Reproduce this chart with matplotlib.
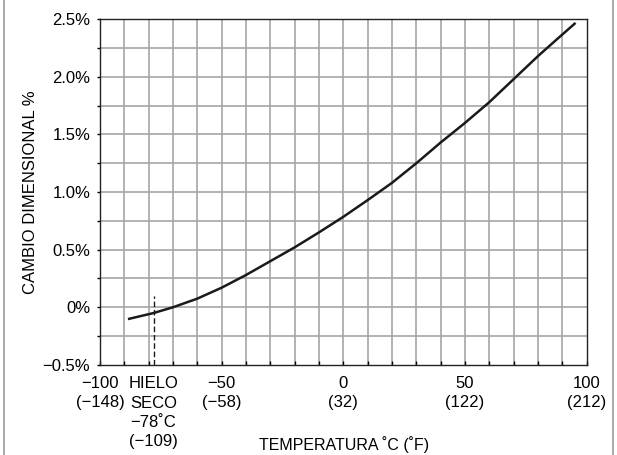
import matplotlib
matplotlib.use("Agg")
import matplotlib.pyplot as plt
from matplotlib.lines import Line2D

plt.rcParams['font.family'] = ['Liberation Sans', 'DejaVu Sans']

# curve
temp_c = [-88, -78, -70, -60, -50, -40, -30, -20, -10, 0, 10, 20, 30, 40, 50, 60, 70, 80, 88, 95]
change_pct = [-0.10, -0.05, 0.0, 0.075, 0.17, 0.28, 0.40, 0.52, 0.65, 0.785, 0.93, 1.08,
              1.25, 1.43, 1.60, 1.78, 1.98, 2.18, 2.33, 2.46]

x_ticks = [-100, -50, 0, 50, 100]
x_labels = ["\u2212100\n(\u2212148)", "\u221250\n(\u221258)", "0\n(32)", "50\n(122)", "100\n(212)"]
dry_ice = -78
dry_ice_label = "HIELO\nSECO\n\u221278\u02daC\n(\u2212109)"
y_ticks = [-0.5, 0, 0.5, 1.0, 1.5, 2.0, 2.5]
y_labels = ["\u22120.5%", "0%", "0.5%", "1.0%", "1.5%", "2.0%", "2.5%"]

fig = plt.figure(figsize=(6.17, 4.55), dpi=100)
ax = fig.add_axes([0.162, 0.198, 0.789, 0.760])

ax.set_xlim(-100, 100)
ax.set_ylim(-0.5, 2.5)

# grid every 10 deg and every 0.25 %
for gx in range(-90, 100, 10):
    ax.axvline(gx, color='#a6a6a6', lw=1.2, zorder=1)
for i in range(1, 12):
    ax.axhline(-0.5 + 0.25 * i, color='#a6a6a6', lw=1.2, zorder=1)

ax.plot(temp_c, change_pct, color='#1a1a1a', lw=1.8, zorder=3, solid_joinstyle='round')
ax.plot([dry_ice, dry_ice], [-0.5, 0.1], color='#1a1a1a', lw=1.0, ls=(0, (4, 2)), zorder=3)

fs = 12
ax.set_xticks(x_ticks, labels=x_labels)
ax.set_xticks(list(range(-90, 100, 10)), minor=True)
ax.tick_params(axis='x', which='both', direction='in', length=3, width=1, pad=8, labelsize=fs)
for lab in ax.get_xticklabels():
    lab.set_linespacing(1.35)
ax.text(dry_ice, -0.6, dry_ice_label, ha='center', va='top', fontsize=fs,
        linespacing=1.35, transform=ax.transData, clip_on=False)

ax.set_yticks(y_ticks, labels=y_labels)
ax.set_yticks([-0.25, 0.25, 0.75, 1.25, 1.75, 2.25], minor=True)
ax.tick_params(axis='y', which='both', direction='out', length=2.5, width=1, pad=4.5, labelsize=fs)

for s in ax.spines.values():
    s.set_color('#222222')
    s.set_linewidth(1.0)

fig.text(0.049, 0.578, "CAMBIO DIMENSIONAL %", rotation=90, ha='center', va='center', fontsize=fs)
fig.text(0.557, 0.022, "TEMPERATURA \u02daC (\u02daF)", ha='center', va='center', fontsize=11.5)

# side frame lines
fig.add_artist(Line2D([0.006, 0.006], [0, 1], transform=fig.transFigure, color='#999999', lw=1.2))
fig.add_artist(Line2D([0.994, 0.994], [0, 1], transform=fig.transFigure, color='#999999', lw=1.2))

fig.savefig("out.png", dpi=100)
